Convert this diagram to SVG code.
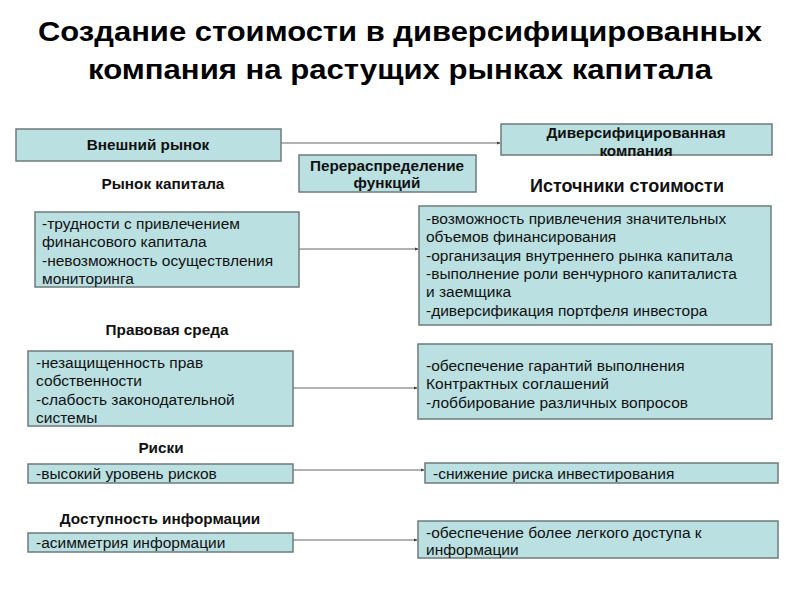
<svg xmlns="http://www.w3.org/2000/svg" width="800" height="600" viewBox="0 0 800 600">
<defs>
<style>
.box{fill:#bae0e1;stroke:#6e7b7c;stroke-width:1.5}
.t{font-family:"Liberation Sans",Arial,sans-serif;font-size:15.5px;fill:#111}
.b{font-family:"Liberation Sans",Arial,sans-serif;font-size:15.3px;font-weight:bold;fill:#111}
.h{font-family:"Liberation Sans",Arial,sans-serif;font-size:27px;font-weight:bold;fill:#000;text-anchor:middle}
.c{stroke:#666;stroke-width:1.2;fill:none;marker-end:url(#ar)}
</style>
<marker id="ar" viewBox="0 0 6 6" refX="5" refY="3" markerWidth="4" markerHeight="4" orient="auto" markerUnits="userSpaceOnUse"><path d="M0,0.5 L6,3 L0,5.5 z" fill="#444"/></marker>
</defs>
<rect width="800" height="600" fill="#fff"/>
<g id="title">
<text class="h" x="400" y="41" textLength="724" lengthAdjust="spacingAndGlyphs">Создание стоимости в диверсифицированных</text>
<text class="h" x="400" y="79" textLength="624" lengthAdjust="spacingAndGlyphs">компания на растущих рынках капитала</text>
</g>
<g id="connectors">
<line class="c" x1="281" y1="143" x2="500" y2="143"/>
<line class="c" x1="299" y1="249" x2="418" y2="249"/>
<line class="c" x1="293" y1="388" x2="417" y2="388"/>
<line class="c" x1="293" y1="470" x2="424" y2="470"/>
<line class="c" x1="293" y1="540" x2="417" y2="540"/>
</g>
<g id="external-market">
<rect class="box" x="16" y="129" width="265" height="32"/>
<text class="b" x="148" y="150" text-anchor="middle">Внешний рынок</text>
</g>
<g id="redistribution">
<rect class="box" x="299" y="155" width="177" height="37"/>
<text class="b" x="387" y="171" text-anchor="middle">Перераспределение</text>
<text class="b" x="387" y="188" text-anchor="middle">функций</text>
</g>
<g id="diversified-company">
<rect class="box" x="501" y="124" width="271" height="31"/>
<text class="b" x="636" y="138" text-anchor="middle">Диверсифицированная</text>
<text class="b" x="636" y="156" text-anchor="middle">компания</text>
</g>
<g id="label-capital-market"><text class="b" x="163" y="189" text-anchor="middle">Рынок капитала</text></g>
<g id="label-sources"><text class="b" x="627" y="192" text-anchor="middle" style="font-size:18px">Источники стоимости</text></g>
<g id="capital-problems">
<rect class="box" x="35" y="212" width="264" height="75"/>
<text class="t" x="42" y="229">-трудности с привлечением</text>
<text class="t" x="42" y="247">финансового капитала</text>
<text class="t" x="42" y="266">-невозможность осуществления</text>
<text class="t" x="42" y="284">мониторинга</text>
</g>
<g id="capital-sources">
<rect class="box" x="419" y="206" width="352" height="119"/>
<text class="t" x="426" y="224">-возможность привлечения значительных</text>
<text class="t" x="426" y="242">объемов финансирования</text>
<text class="t" x="426" y="261">-организация внутреннего рынка капитала</text>
<text class="t" x="426" y="279">-выполнение роли венчурного капиталиста</text>
<text class="t" x="426" y="297">и заемщика</text>
<text class="t" x="426" y="316">-диверсификация портфеля инвестора</text>
</g>
<g id="label-legal"><text class="b" x="167" y="335" text-anchor="middle">Правовая среда</text></g>
<g id="legal-problems">
<rect class="box" x="28" y="351" width="265" height="75"/>
<text class="t" x="36" y="368">-незащищенность прав</text>
<text class="t" x="36" y="386">собственности</text>
<text class="t" x="36" y="405">-слабость законодательной</text>
<text class="t" x="36" y="423">системы</text>
</g>
<g id="legal-sources">
<rect class="box" x="418" y="344" width="354" height="75"/>
<text class="t" x="426" y="371">-обеспечение гарантий выполнения</text>
<text class="t" x="426" y="389">Контрактных соглашений</text>
<text class="t" x="426" y="408">-лоббирование различных вопросов</text>
</g>
<g id="label-risks"><text class="b" x="161" y="453" text-anchor="middle">Риски</text></g>
<g id="risk-problems">
<rect class="box" x="28" y="464" width="265" height="19"/>
<text class="t" x="36" y="479">-высокий уровень рисков</text>
</g>
<g id="risk-sources">
<rect class="box" x="425" y="463" width="353" height="20"/>
<text class="t" x="433" y="479">-снижение риска инвестирования</text>
</g>
<g id="label-info"><text class="b" x="160" y="524" text-anchor="middle">Доступность информации</text></g>
<g id="info-problems">
<rect class="box" x="28" y="533" width="265" height="19"/>
<text class="t" x="36" y="548">-асимметрия информации</text>
</g>
<g id="info-sources">
<rect class="box" x="418" y="521" width="360" height="37"/>
<text class="t" x="426" y="538">-обеспечение более легкого доступа к</text>
<text class="t" x="426" y="555">информации</text>
</g>
</svg>
